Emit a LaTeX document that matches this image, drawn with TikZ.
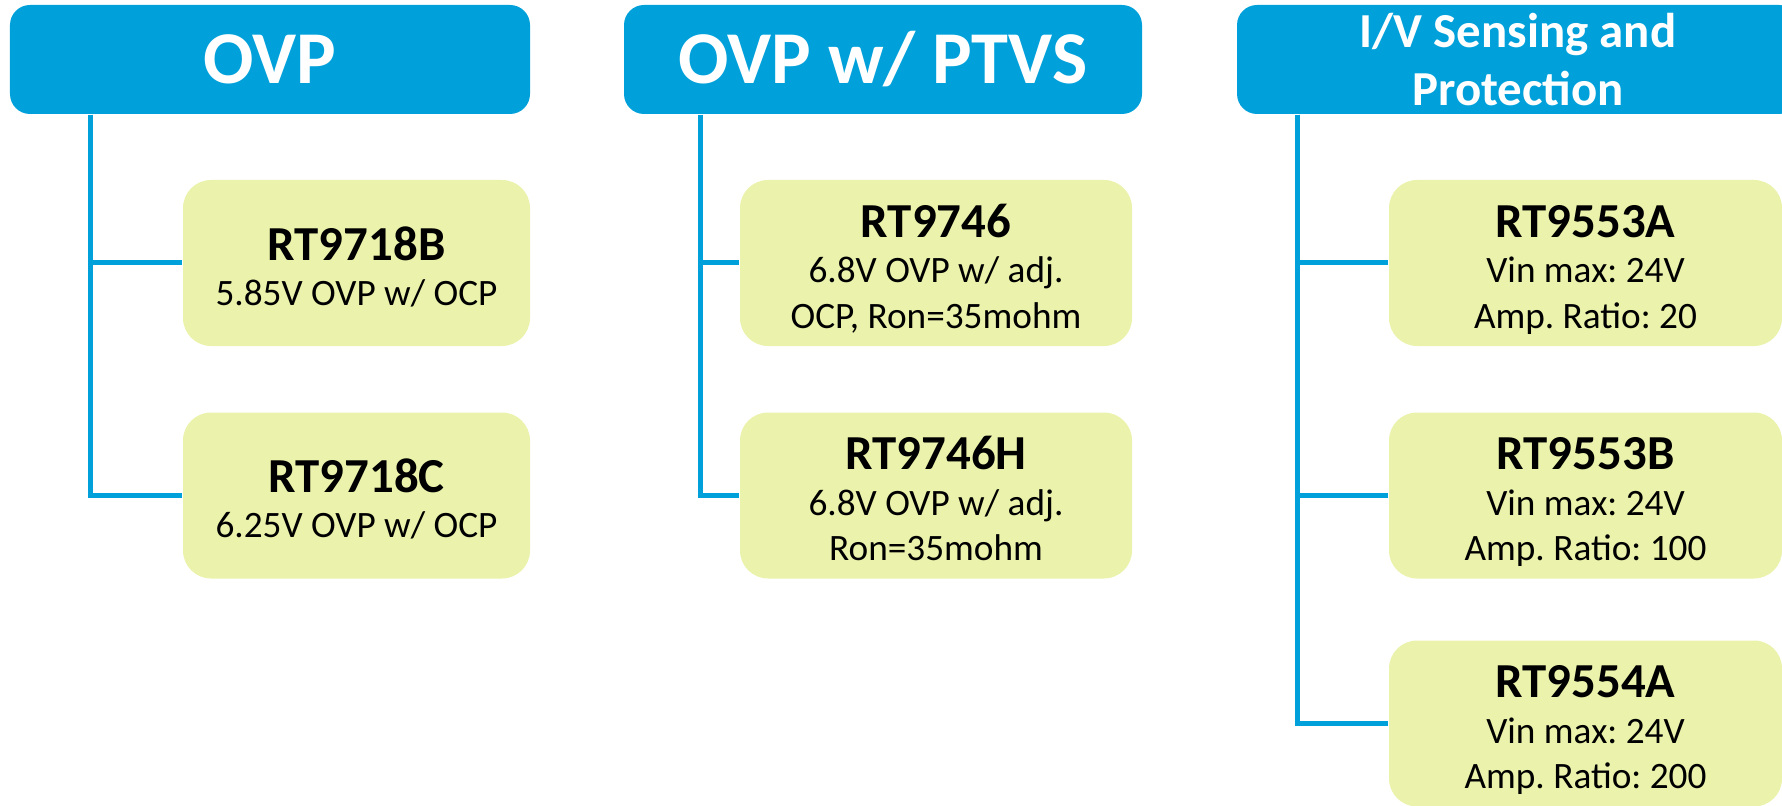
\documentclass[tikz,border=0pt]{standalone}
\usepackage{fontspec}
\setmainfont{Carlito}
\usetikzlibrary{positioning}
\definecolor{richblue}{RGB}{0,161,219}
\definecolor{chipgreen}{RGB}{235,242,171}
% part number line, with a strut so the text sits a little low, as in the slide
\newcommand{\chipname}[1]{{\fontsize{13.9}{16}\selectfont\bfseries\rule{0pt}{11.2pt}#1}}
\frenchspacing

\begin{document}
\begin{tikzpicture}[
  family/.style={fill=richblue,rounded corners=0.2cm,text=white,align=center,
                 inner sep=0pt,minimum height=1.09cm,font=\fontsize{21.2}{24}\selectfont\bfseries},
  chip/.style={fill=chipgreen,rounded corners=0.28cm,align=center,inner sep=0pt,
               minimum height=1.66cm,text depth=0pt,font=\fontsize{10.6}{12.9}\selectfont},
  link/.style={draw=richblue,line width=0.05cm}]
  \useasboundingbox (0,0) rectangle (17.82,-8.06);
  \clip (0,0) rectangle (17.82,-8.06);
  % family headers
  \node[family,minimum width=5.20cm] (ovp)  at (2.70,-0.595)  {OVP};
  \node[family,minimum width=5.18cm] (ptvs) at (8.83,-0.595)  {OVP w/ PTVS};
  \node[family,minimum width=5.62cm,font=\fontsize{13.9}{16.3}\selectfont\bfseries]
       (sense) at (15.18,-0.595) {I/V Sensing and\\Protection};
  % parts
  \node[chip,minimum width=3.47cm] (rt9718b) at (3.565,-2.63)  {\chipname{RT9718B}\\5.85V OVP w/ OCP};
  \node[chip,minimum width=3.47cm] (rt9718c) at (3.565,-4.955) {\chipname{RT9718C}\\6.25V OVP w/ OCP};
  \node[chip,minimum width=3.92cm] (rt9746)  at (9.36,-2.63)   {\chipname{RT9746}\\6.8V OVP w/ adj.\\OCP, Ron=35mohm};
  \node[chip,minimum width=3.92cm] (rt9746h) at (9.36,-4.955)  {\chipname{RT9746H}\\6.8V OVP w/ adj.\\Ron=35mohm};
  \node[chip,minimum width=3.93cm] (rt9553a) at (15.855,-2.63)  {\chipname{RT9553A}\\Vin max: 24V\\Amp. Ratio: 20};
  \node[chip,minimum width=3.93cm] (rt9553b) at (15.855,-4.955) {\chipname{RT9553B}\\Vin max: 24V\\Amp. Ratio: 100};
  \node[chip,minimum width=3.93cm] (rt9554a) at (15.855,-7.235) {\chipname{RT9554A}\\Vin max: 24V\\Amp. Ratio: 200};
  % tree lines
  \draw[link] ([xshift=0.81cm]ovp.south west) |- (rt9718b.west);
  \draw[link] ([xshift=0.81cm]ovp.south west) |- (rt9718c.west);
  \draw[link] ([xshift=0.77cm]ptvs.south west) |- (rt9746.west);
  \draw[link] ([xshift=0.77cm]ptvs.south west) |- (rt9746h.west);
  \draw[link] ([xshift=0.61cm]sense.south west) |- (rt9553a.west);
  \draw[link] ([xshift=0.61cm]sense.south west) |- (rt9553b.west);
  \draw[link] ([xshift=0.61cm]sense.south west) |- (rt9554a.west);
\end{tikzpicture}
\end{document}
